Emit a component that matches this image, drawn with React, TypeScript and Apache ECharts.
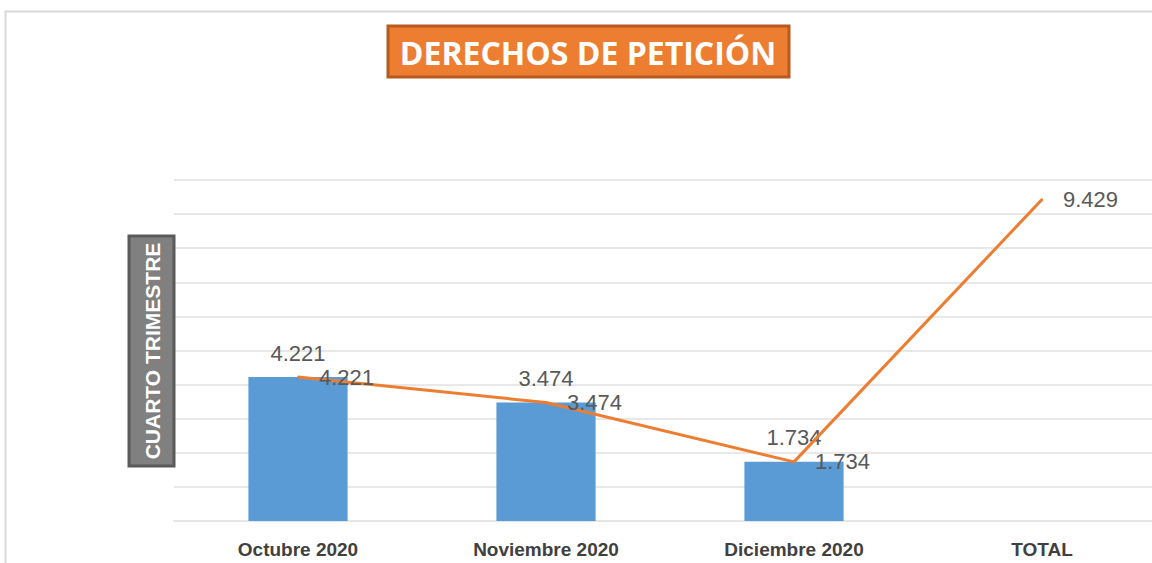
import React, { useEffect, useRef } from "react";
import * as echarts from "echarts";

const categories = ["Octubre 2020", "Noviembre 2020", "Diciembre 2020", "TOTAL"];
const barValues: (number | null)[] = [4221, 3474, 1734, null];
const lineValues = [4221, 3474, 1734, 9429];
const titleText = "DERECHOS DE PETICIÓN";
const axisNameText = "CUARTO TRIMESTRE";

const fmt = (v: number) => v.toLocaleString("de-DE");

export default function App() {
  const ref = useRef<HTMLDivElement>(null);
  useEffect(() => {
    if (!ref.current) return;
    const chart = echarts.init(ref.current, undefined, { renderer: "svg" });
    chart.setOption({
      animation: false,
      backgroundColor: "#ffffff",
      grid: { left: 174, width: 992, top: 180, bottom: 42, outerBoundsMode: "none", containLabel: false },
      xAxis: {
        type: "category",
        data: categories,
        axisLine: { show: true, lineStyle: { color: "#e6e6e6", width: 2 } },
        axisTick: { show: false },
        axisLabel: {
          color: "#404040",
          fontWeight: "bold",
          fontSize: 19,
          fontFamily: "Liberation Sans Narrow, Liberation Sans, sans-serif",
          margin: 19,
        },
      },
      yAxis: {
        type: "value",
        min: 0,
        max: 10000,
        interval: 1000,
        axisLabel: { show: false },
        axisLine: { show: false },
        axisTick: { show: false },
        splitLine: { lineStyle: { color: "#e8e8e8", width: 2 } },
      },
      series: [
        {
          type: "bar",
          data: barValues,
          barWidth: "40%",
          itemStyle: { color: "#5B9BD5" },
          label: {
            show: true,
            position: "top",
            distance: 13,
            color: "#595959",
            fontSize: 22,
            fontFamily: "Liberation Sans, sans-serif",
            formatter: (p: any) => fmt(p.value),
          },
        },
        {
          type: "line",
          data: lineValues,
          symbol: "circle",
          symbolSize: 2,
          showSymbol: true,
          lineStyle: { color: "#ED7D31", width: 3 },
          itemStyle: { color: "#ED7D31" },
          label: {
            show: true,
            position: "right",
            distance: 20,
            color: "#595959",
            fontSize: 22,
            fontFamily: "Liberation Sans, sans-serif",
            formatter: (p: any) => fmt(p.value),
          },
        },
      ],
      graphic: [
        {
          type: "rect",
          silent: true,
          shape: { x: 5.5, y: 11.5, width: 1300, height: 700 },
          style: { fill: "none", stroke: "#d9d9d9", lineWidth: 2 },
          z: 0,
        },
        {
          type: "rect",
          shape: { x: 388, y: 26, width: 401, height: 51 },
          style: { fill: "#ED7D31", stroke: "#B85A1E", lineWidth: 3 },
          z: 10,
        },
        {
          type: "text",
          x: 588,
          y: 52,
          style: {
            text: titleText,
            fill: "#ffffff",
            font: "bold 32px 'Open Sans', sans-serif",
            align: "center",
            verticalAlign: "middle",
          },
          z: 11,
        },
        {
          type: "rect",
          shape: { x: 129, y: 236, width: 45, height: 230 },
          style: { fill: "#808080", stroke: "#5a5a5a", lineWidth: 3 },
          z: 10,
        },
        {
          type: "text",
          x: 152,
          y: 351,
          rotation: Math.PI / 2,
          style: {
            text: axisNameText,
            fill: "#ffffff",
            font: "bold 21px 'Liberation Sans Narrow', 'Liberation Sans', sans-serif",
            align: "center",
            verticalAlign: "middle",
          },
          z: 11,
        },
      ],
    });
    return () => chart.dispose();
  }, []);
  return (
    <div
      ref={ref}
      style={{ position: "fixed", left: 0, top: 0, width: 1152, height: 563 }}
    />
  );
}
